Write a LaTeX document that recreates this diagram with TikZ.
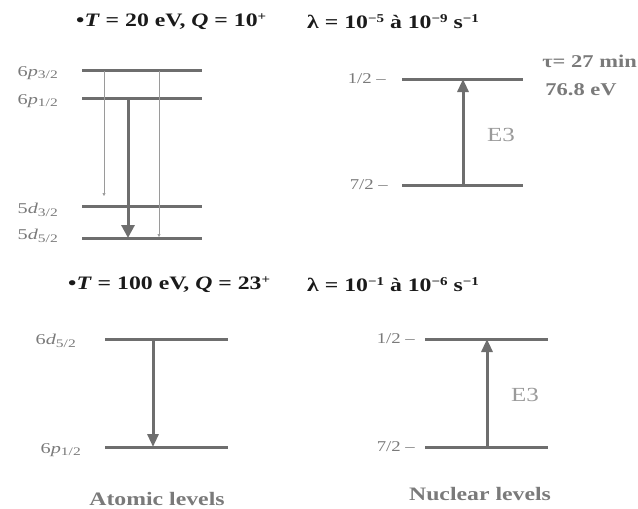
\documentclass[tikz,border=0pt]{standalone}
\usepackage{fontspec}
\setmainfont{Liberation Serif}
\newfontfamily\wide[FakeStretch=1.25]{Liberation Serif}
\newfontfamily\wider[FakeStretch=1.35]{Liberation Serif}
\usetikzlibrary{arrows.meta}
\definecolor{lvl}{HTML}{6E6E6E}
\definecolor{lab}{HTML}{7A7A7A}
\definecolor{lite}{HTML}{9A9A9A}
\definecolor{ttl}{HTML}{1A1A1A}
\newcommand{\lsub}[1]{\raisebox{-0.35ex}{\fontsize{11.5}{12}\selectfont #1}}
\newcommand{\tsup}[1]{\raisebox{0.7ex}{\fontsize{12}{12}\selectfont #1}}
\tikzset{
  level/.style={draw=lvl, line width=3pt},
  bigarrow/.style={draw=lvl, line width=3pt, -{Triangle[width=13pt,length=13pt]}},
  thinarrow/.style={draw=lite, line width=0.5pt, -{Triangle[width=3pt,length=3pt]}},
  title/.style={font=\wide\bfseries\fontsize{19}{22}\selectfont, text=ttl, inner sep=0pt},
  lvllab/.style={font=\wider\fontsize{15}{16}\selectfont, text=lab, inner sep=0pt, anchor=east},
  spinlab/.style={font=\wide\fontsize{15}{16}\selectfont, text=lab, inner sep=0pt, anchor=east},
  e3/.style={font=\wide\fontsize{20}{22}\selectfont, text=lite, inner sep=0pt},
  side/.style={font=\wide\bfseries\fontsize{18}{20}\selectfont, text=lab, inner sep=0pt},
  foot/.style={font=\wide\bfseries\fontsize{19}{20}\selectfont, text=lab, inner sep=0pt},
}
\begin{document}
\begin{tikzpicture}[x=1pt,y=-1pt]
\useasboundingbox (0,0) rectangle (638,509);
% ---------- top titles
\node[title, anchor=west] (t1) at (76,22) {•\textit{T} = 20 eV, \textit{Q} = 10\tsup{+}};
\node[title, anchor=west] (l1) at (307,22) {λ = 10\tsup{−5} à 10\tsup{−9} s\tsup{−1}};
% ---------- top-left atomic levels
\coordinate (a1l) at (82,70);  \coordinate (a1r) at (202,70);
\coordinate (a2l) at (82,98);  \coordinate (a2r) at (202,98);
\coordinate (a3l) at (82,206); \coordinate (a3r) at (202,206);
\coordinate (a4l) at (82,238); \coordinate (a4r) at (202,238);
\draw[level] (a1l) -- (a1r);
\draw[level] (a2l) -- (a2r);
\draw[level] (a3l) -- (a3r);
\draw[level] (a4l) -- (a4r);
\node[lvllab] (la1) at (58,73) {6\textit{p}\lsub{3/2}};
\node[lvllab] (la2) at (58,101) {6\textit{p}\lsub{1/2}};
\node[lvllab] (la3) at (58,210) {5\textit{d}\lsub{3/2}};
\node[lvllab] (la4) at (58,236) {5\textit{d}\lsub{5/2}};
\coordinate (ta1) at (128,98);  \coordinate (ta2) at (128,238);
\draw[bigarrow] (ta1) -- (ta2);
\coordinate (tb1) at (104,71);  \coordinate (tb2) at (104,196);
\draw[thinarrow] (tb1) -- (tb2);
\coordinate (tc1) at (159,71);  \coordinate (tc2) at (159,237);
\draw[thinarrow] (tc1) -- (tc2);
% ---------- top-right nuclear levels
\coordinate (n1l) at (402,79);  \coordinate (n1r) at (523,79);
\coordinate (n2l) at (402,185); \coordinate (n2r) at (523,185);
\draw[level] (n1l) -- (n1r);
\draw[level] (n2l) -- (n2r);
\node[spinlab] (ln1) at (386,79) {1/2 –};
\node[spinlab] (ln2) at (388,185) {7/2 –};
\coordinate (na1) at (463,185); \coordinate (na2) at (463,79);
\draw[bigarrow, -{Triangle[width=11pt,length=13pt]}] (na1) -- (na2);
\node[e3] (e31) at (501,135) {E3};
\node[side, anchor=east] (tau) at (637,61) {τ= 27 min};
\node[side] (en) at (581,90) {76.8 eV};
% ---------- bottom titles
\node[title, anchor=west] (t2) at (68,285) {•\textit{T} = 100 eV, \textit{Q} = 23\tsup{+}};
\node[title, anchor=west] (l2) at (307,285) {λ = 10\tsup{−1} à 10\tsup{−6} s\tsup{−1}};
% ---------- bottom-left atomic
\coordinate (b1l) at (105,339); \coordinate (b1r) at (228,339);
\coordinate (b2l) at (105,447); \coordinate (b2r) at (228,447);
\draw[level] (b1l) -- (b1r);
\draw[level] (b2l) -- (b2r);
\node[lvllab] (lb1) at (76,341) {6\textit{d}\lsub{5/2}};
\node[lvllab] (lb2) at (81,450) {6\textit{p}\lsub{1/2}};
\coordinate (ba1) at (153,339); \coordinate (ba2) at (153,447);
\draw[bigarrow, -{Triangle[width=11pt,length=13pt]}] (ba1) -- (ba2);
\node[foot] (f1) at (157,499) {Atomic levels};
% ---------- bottom-right nuclear
\coordinate (c1l) at (425,339); \coordinate (c1r) at (548,339);
\coordinate (c2l) at (425,447); \coordinate (c2r) at (548,447);
\draw[level] (c1l) -- (c1r);
\draw[level] (c2l) -- (c2r);
\node[spinlab] (lc1) at (415,339) {1/2 –};
\node[spinlab] (lc2) at (415,447) {7/2 –};
\coordinate (ca1) at (487,447); \coordinate (ca2) at (487,339);
\draw[bigarrow, -{Triangle[width=11pt,length=13pt]}] (ca1) -- (ca2);
\node[e3] (e32) at (525,395) {E3};
\node[foot] (f2) at (480,494) {Nuclear levels};
\end{tikzpicture}
\end{document}
